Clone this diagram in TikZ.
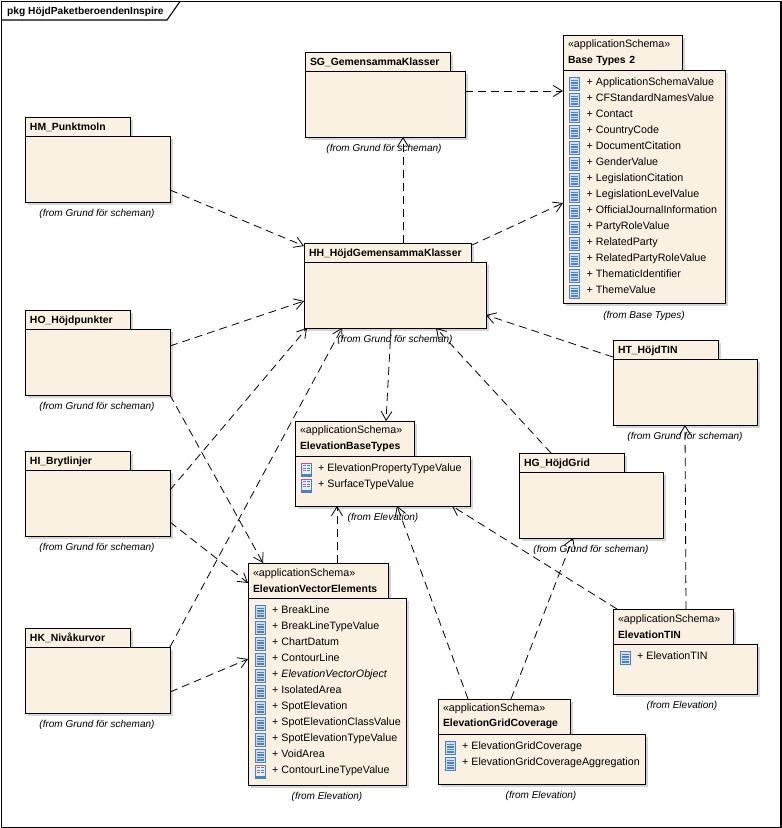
\documentclass[tikz,border=0pt]{standalone}
\usepackage{fontspec}
\setmainfont{Liberation Sans}
\usetikzlibrary{arrows.meta}
\usetikzlibrary{shadows}

\definecolor{pkgfill}{HTML}{FBF1E3}
\definecolor{iconblue}{HTML}{4F7FBC}
\definecolor{iconpale}{HTML}{CFE0F2}
\definecolor{iconrose}{HTML}{B0608F}

\newcommand{\tabname}[1]{\textbf{\fontsize{10.4}{15.4}\selectfont #1}}

\tikzset{
  boxshadow/.style={general shadow={shadow xshift=2.5pt,shadow yshift=-2.5pt,fill=black!17}},
  pkgtab/.style={draw=black,line width=0.9pt,fill=pkgfill,boxshadow,anchor=north west,inner xsep=5pt,inner ysep=0pt,outer sep=0pt,
    align=left,font=\fontsize{10.7}{15.4}\selectfont},
  nametab/.style={pkgtab,minimum height=19pt,text depth=0pt},
  schematab/.style={pkgtab,minimum height=35pt},
  pkgbody/.style={draw=black,line width=0.9pt,fill=pkgfill,boxshadow,anchor=north west,inner sep=0pt,outer sep=0pt},
  fromtext/.style={font=\fontsize{10}{12}\selectfont\itshape,inner sep=0pt},
  itemtext/.style={anchor=west,font=\fontsize{10.7}{12}\selectfont,inner sep=0pt,text height=9pt,text depth=1.6pt},
  dep/.style={draw=black,line width=0.8pt,dash pattern=on 8pt off 5pt,-{Straight Barb[length=9pt,width=11pt]}},
  classicon/.pic={
    \fill[iconpale] (-5,-5) rectangle (5,8);
    \foreach \r in {-1.5,1,3.5,6} {\draw[iconblue,line width=1.1pt] (-3.5,\r) -- (3.5,\r);}
    \draw[iconblue,line width=0.7pt] (-5,-5) rectangle (5,8);
  },
  enumicon/.pic={
    \draw[iconblue,line width=0.7pt,fill=iconpale!50] (-5,-5) rectangle (5,8);
    \draw[iconrose,line width=0.7pt] (-5,-5) -- (5,-5);
    \fill[iconblue] (-5,6) rectangle (5,8);
    \foreach \r in {-2.5,0,2.5} {
      \draw[iconrose,line width=0.8pt] (-3.5,\r) -- (-0.5,\r);
      \draw[iconblue,line width=0.8pt] (1,\r) -- (3.5,\r);
    }
  }
}

\begin{document}
\begin{tikzpicture}[x=1pt,y=-1pt]
\useasboundingbox (0,0) rectangle (782,828);
\fill[white] (0,0) rectangle (782,828);

% frame
\draw[black,line width=1.1pt] (1.5,1.5) rectangle (781,827.5);
\draw[black,line width=1.1pt] (1.5,20) -- (167,20) -- (180,1.5);
\node[anchor=west,inner sep=0pt,font=\fontsize{10.2}{12}\selectfont\bfseries] (pkgname) at (7,11.5) {pkg HöjdPaketberoendenInspire};

% packages without content
\node[nametab,text width=95pt] (hmtab) at (25,117) {\tabname{HM\_Punktmoln}};
\node[pkgbody,minimum width=145pt,minimum height=66pt] (hm) at (25,136) {};
\node[fromtext] (hmfrom) at (97,214) {(from Grund för scheman)};

\node[nametab,text width=135pt] (sgtab) at (305,52) {\tabname{SG\_GemensammaKlasser}};
\node[pkgbody,minimum width=160pt,minimum height=66pt] (sg) at (305,71) {};
\node[fromtext] (sgfrom) at (384,149) {(from Grund för scheman)};

\node[nametab,text width=157pt] (hhtab) at (304,243) {\tabname{HH\_HöjdGemensammaKlasser}};
\node[pkgbody,minimum width=182pt,minimum height=66pt] (hh) at (304,262) {};
\node[fromtext] (hhfrom) at (395,340) {(from Grund för scheman)};

\node[nametab,text width=95pt] (hotab) at (25,310) {\tabname{HO\_Höjdpunkter}};
\node[pkgbody,minimum width=145pt,minimum height=66pt] (ho) at (25,329) {};
\node[fromtext] (hofrom) at (97,407) {(from Grund för scheman)};

\node[nametab,text width=95pt] (hitab) at (25,451) {\tabname{HI\_Brytlinjer}};
\node[pkgbody,minimum width=145pt,minimum height=66pt] (hi) at (25,470) {};
\node[fromtext] (hifrom) at (97,548) {(from Grund för scheman)};

\node[nametab,text width=95pt] (hktab) at (25,628) {\tabname{HK\_Nivåkurvor}};
\node[pkgbody,minimum width=145pt,minimum height=66pt] (hk) at (25,647) {};
\node[fromtext] (hkfrom) at (97,725) {(from Grund för scheman)};

\node[nametab,text width=95pt] (httab) at (613,340) {\tabname{HT\_HöjdTIN}};
\node[pkgbody,minimum width=144pt,minimum height=66pt] (ht) at (613,359) {};
\node[fromtext] (htfrom) at (685,437) {(from Grund för scheman)};

\node[nametab,text width=95pt] (hgtab) at (519,453) {\tabname{HG\_HöjdGrid}};
\node[pkgbody,minimum width=144pt,minimum height=66pt] (hg) at (519,472) {};
\node[fromtext] (hgfrom) at (591,550) {(from Grund för scheman)};

% application schemas
\node[schematab,text width=109pt] (basetab) at (563,35) {«applicationSchema»\\\tabname{Base Types 2}};
\node[pkgbody,minimum width=162pt,minimum height=233pt] (base) at (563,70) {};
\node[fromtext] (basefrom) at (644,316) {(from Base Types)};
\foreach \t [count=\i from 0] in {ApplicationSchemaValue,CFStandardNamesValue,Contact,CountryCode,DocumentCitation,GenderValue,LegislationCitation,LegislationLevelValue,OfficialJournalInformation,PartyRoleValue,RelatedParty,RelatedPartyRoleValue,ThematicIdentifier,ThemeValue} {
  \node[itemtext] (base\i) at (586.5,82+16*\i) {+ \t};
  \pic at (574,82+16*\i) {classicon};
}

\node[schematab,text width=109pt] (ebttab) at (295,421) {«applicationSchema»\\\tabname{ElevationBaseTypes}};
\node[pkgbody,minimum width=175pt,minimum height=50pt] (ebt) at (295,456) {};
\node[fromtext] (ebtfrom) at (383,518) {(from Elevation)};
\node[itemtext] (ebt0) at (318,468) {+ ElevationPropertyTypeValue};
\node[itemtext] (ebt1) at (318,484) {+ SurfaceTypeValue};
\pic at (306,468) {enumicon};
\pic at (306,484) {enumicon};

\node[schematab,text width=130pt] (evetab) at (248,563) {«applicationSchema»\\\tabname{ElevationVectorElements}};
\node[pkgbody,minimum width=158pt,minimum height=187pt] (eve) at (248,598) {};
\node[fromtext] (evefrom) at (327,797) {(from Elevation)};
\foreach \t [count=\i from 0] in {BreakLine,BreakLineTypeValue,ChartDatum,ContourLine,\textit{ElevationVectorObject},IsolatedArea,SpotElevation,SpotElevationClassValue,SpotElevationTypeValue,VoidArea} {
  \node[itemtext] (eve\i) at (272,610+16*\i) {+ \t};
  \pic at (260,610+16*\i) {classicon};
}
\node[itemtext] (eve10) at (272,770) {+ ContourLineTypeValue};
\pic at (260,770) {enumicon};

\node[schematab,text width=110pt] (etintab) at (613,609) {«applicationSchema»\\\tabname{ElevationTIN}};
\node[pkgbody,minimum width=144pt,minimum height=50pt] (etin) at (613,644) {};
\node[fromtext] (etinfrom) at (682,706) {(from Elevation)};
\node[itemtext] (etin0) at (637,656) {+ ElevationTIN};
\pic at (625,656) {classicon};

\node[schematab,text width=122pt] (egctab) at (438,699) {«applicationSchema»\\\tabname{ElevationGridCoverage}};
\node[pkgbody,minimum width=207pt,minimum height=50pt] (egc) at (438,734) {};
\node[fromtext] (egcfrom) at (541,796) {(from Elevation)};
\node[itemtext] (egc0) at (462,746) {+ ElevationGridCoverage};
\node[itemtext] (egc1) at (462,762) {+ ElevationGridCoverageAggregation};
\pic at (450,746) {classicon};
\pic at (450,762) {classicon};

% dependencies
\draw[dep] ([yshift=-20pt]sg.north east) to ([yshift=-21pt]base.north west);
\draw[dep] ([xshift=99pt]hhtab.north west) to ([xshift=98pt]sg.south west);
\draw[dep] ([yshift=-2.5pt]hhtab.north east) to ([yshift=-133pt]base.north west);
\draw[dep] ([yshift=12pt]hm.south east) to ([yshift=-3pt]hhtab.north west);
\draw[dep] ([yshift=-17pt]ho.north east) to ([yshift=-39pt]hh.north west);
\draw[dep] ([yshift=-20pt]hi.north east) to ([xshift=3pt]hh.south west);
\draw[dep] (hk.north east) to ([xshift=38pt]hh.south west);
\draw[dep] ([xshift=87pt]hh.south west) to ([xshift=91pt]ebttab.north west);
\draw[dep] ([xshift=32pt]hgtab.north west) to ([xshift=132pt]hh.south west);
\draw[dep] ([yshift=-17pt]httab.north west) to ([yshift=13pt]hh.south east);
\draw[dep] (ho.south east) to ([xshift=15pt]evetab.north west);
\draw[dep] ([yshift=14pt]hi.south east) to ([yshift=-20pt]evetab.north west);
\draw[dep] ([yshift=21pt]hk.south east) to ([yshift=-61pt]eve.north west);
\draw[dep] ([xshift=89pt]evetab.north west) to ([xshift=42pt]ebt.south west);
\draw[dep] ([xshift=30pt]egctab.north west) to ([xshift=102pt]ebt.south west);
\draw[dep] ([xshift=73pt]egctab.north west) to ([xshift=54pt]hg.south west);
\draw[dep] ([xshift=4pt]etintab.north west) to ([xshift=157pt]ebt.south west);
\draw[dep] ([xshift=73pt]etintab.north west) to ([xshift=72pt]ht.south west);
\end{tikzpicture}
\end{document}
